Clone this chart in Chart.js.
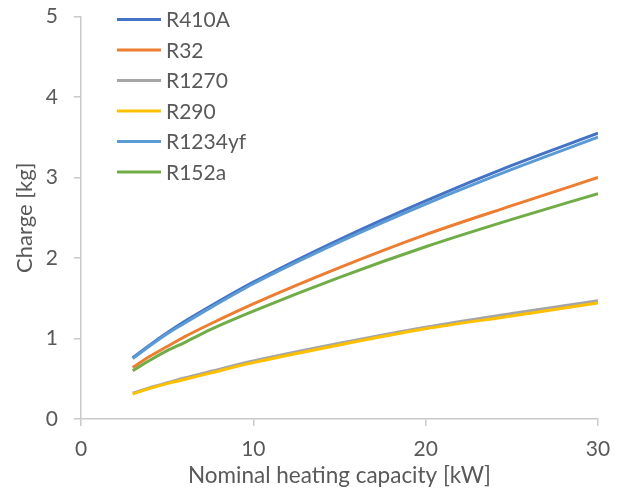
<!DOCTYPE html>
<html>
<head>
<meta charset="utf-8">
<script src="https://cdn.jsdelivr.net/npm/chart.js@4/dist/chart.umd.min.js"></script>
<style>
  html, body { margin: 0; padding: 0; background: #fff; }
  #wrap { width: 619px; height: 493px; }
</style>
</head>
<body>
<div id="wrap"><canvas id="chart" width="619" height="493"></canvas></div>
<script>
// nominal heating capacity [kW]
const capacity = [3, 4, 5, 6, 7.5, 10, 15, 20, 25, 30]

// refrigerant charge [kg] per refrigerant
const r410a = [0.76, 0.92, 1.07, 1.21, 1.40, 1.70, 2.23, 2.71, 3.15, 3.55]
const r32 = [0.64, 0.78, 0.90, 1.02, 1.18, 1.43, 1.88, 2.29, 2.65, 3.00]
const r1270 = [0.32, 0.39, 0.45, 0.51, 0.59, 0.72, 0.94, 1.14, 1.31, 1.47]
const r290 = [0.31, 0.38, 0.44, 0.49, 0.57, 0.70, 0.92, 1.12, 1.28, 1.44]
const r1234yf = [0.75, 0.91, 1.06, 1.19, 1.38, 1.68, 2.20, 2.67, 3.10, 3.50]
const r152a = [0.60, 0.73, 0.85, 0.95, 1.11, 1.34, 1.76, 2.14, 2.48, 2.80]

const seriesNames = ['R410A', 'R32', 'R1270', 'R290', 'R1234yf', 'R152a']
const seriesValues = [r410a, r32, r1270, r290, r1234yf, r152a]
const seriesColors = ['#4472C4', '#ED7D31', '#A5A5A5', '#FFC000', '#5B9BD5', '#70AD47']

const xTicks = [0, 10, 20, 30]
const yTicks = [0, 1, 2, 3, 4, 5]

const FONT = 'Lato'
const TEXT = '#595959'
const AXIS = '#C9C9C9'

const datasets = seriesNames.map((name, i) => ({
    label: name,
    data: capacity.map((x, k) => ({ x, y: seriesValues[i][k] })),
    borderColor: seriesColors[i],
    backgroundColor: seriesColors[i],
    borderWidth: 3,
    pointRadius: 0,
    cubicInterpolationMode: 'monotone',
    fill: false,
    // later series sit on top, like the spreadsheet draws them
    order: seriesNames.length - i
}))

// legend drawn inside the plot, top left, one row per series
const insideLegend = {
    id: 'insideLegend',
    afterDraw(chart) {
        const ctx = chart.ctx
        const x0 = 117, x1 = 161, tx = 166
        const top = 19.5, step = 30.5
        ctx.save()
        ctx.font = `21px ${FONT}`
        ctx.textBaseline = 'middle'
        ctx.fillStyle = TEXT
        seriesNames.forEach((name, i) => {
            const y = top + i * step
            ctx.strokeStyle = seriesColors[i]
            ctx.lineWidth = 3
            ctx.beginPath()
            ctx.moveTo(x0, y)
            ctx.lineTo(x1, y)
            ctx.stroke()
            ctx.fillText(name, tx, y + 1)
        })
        ctx.restore()
    }
}

const ctx = document.getElementById('chart').getContext('2d')
new Chart(ctx, {
    type: 'line',
    data: { datasets },
    plugins: [insideLegend],
    options: {
        responsive: false,
        animation: false,
        maintainAspectRatio: false,
        layout: { padding: { left: 0, right: 21, top: 16.5, bottom: 0 } },
        plugins: {
            legend: { display: false },
            tooltip: { enabled: false }
        },
        scales: {
            x: {
                type: 'linear',
                min: 0,
                max: 30,
                afterBuildTicks: axis => { axis.ticks = xTicks.map(value => ({ value })) },
                afterFit: axis => {
                    axis.height = 74
                    axis.paddingLeft = 0
                    axis.paddingRight = 0
                },
                border: { color: AXIS, width: 1.5 },
                grid: { drawOnChartArea: false, drawTicks: true, tickLength: 7, color: AXIS, lineWidth: 1.5 },
                ticks: { color: TEXT, font: { family: FONT, size: 21 }, padding: 11, maxRotation: 0 },
                title: {
                    display: true,
                    text: 'Nominal heating capacity [kW]',
                    color: TEXT,
                    font: { family: FONT, size: 22.5 },
                    padding: { top: 0, bottom: 4 }
                }
            },
            y: {
                type: 'linear',
                min: 0,
                max: 5,
                afterBuildTicks: axis => { axis.ticks = yTicks.map(value => ({ value })) },
                afterFit: axis => {
                    axis.width = 81
                    // let the top label overhang the plot instead of pushing it down
                    axis.paddingTop = 0
                    axis.paddingBottom = 0
                },
                border: { color: AXIS, width: 1.5 },
                grid: { drawOnChartArea: false, drawTicks: true, tickLength: 7, color: AXIS, lineWidth: 1.5 },
                ticks: { color: TEXT, font: { family: FONT, size: 21 }, padding: 16 },
                title: {
                    display: true,
                    text: 'Charge [kg]',
                    color: TEXT,
                    font: { family: FONT, size: 22 },
                    padding: { top: 12, bottom: 0 }
                }
            }
        }
    }
})
</script>
</body>
</html>
